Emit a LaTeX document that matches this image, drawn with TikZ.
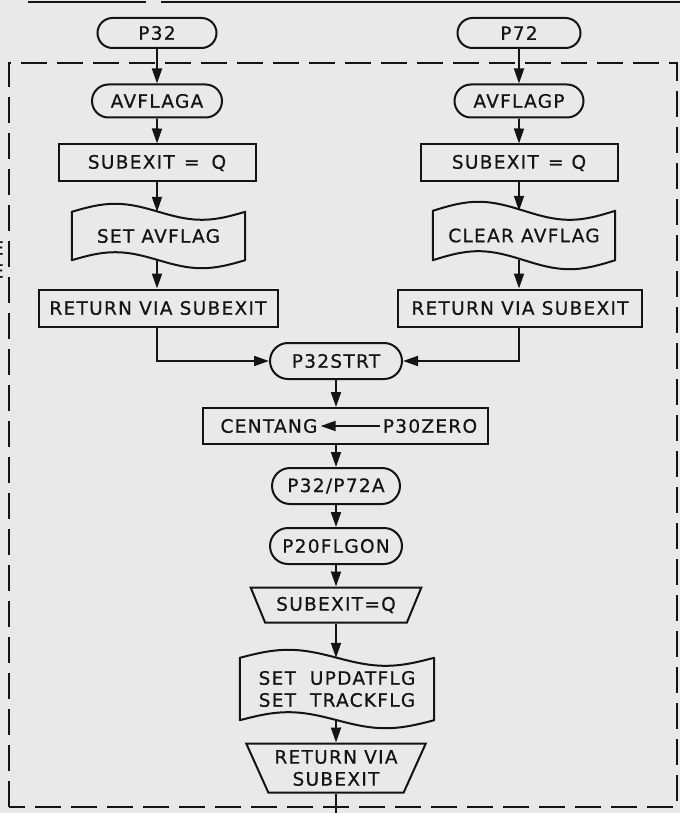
\documentclass[tikz,border=0pt]{standalone}
\usepackage{fontspec}
\usetikzlibrary{arrows.meta,calc,shapes.misc,shapes.geometric}
\newfontfamily\lettering[LetterSpace=7,FakeBold=0.6]{DejaVu Sans}
\definecolor{paper}{RGB}{233,233,233}
\definecolor{ink}{RGB}{20,20,20}
\tikzset{
  every node/.style={font=\lettering\fontsize{18.5}{22}\selectfont, text=ink},
  base/.style={draw=ink, line width=2pt, inner sep=2pt, align=center},
  term/.style={base, rounded rectangle},
  procbox/.style={base, rectangle},
  tapebox/.style={draw=none, inner sep=2pt, align=center},
  outline/.style={draw=ink, line width=2pt, line join=round},
  manual/.style={base, trapezium, shape border rotate=180, trapezium stretches=true},
  flow/.style={draw=ink, line width=1.8pt, -{Triangle[length=15pt,width=10pt]}},
  plain/.style={draw=ink, line width=1.8pt},
  frame/.style={draw=ink, line width=2pt, dash pattern=on 26pt off 10pt},
}
% punched-tape outline around a node: wavy top and bottom edges
\newcommand\tapeoutline[2]{%
  \draw[outline] let \p1=(#1.north west), \p2=(#1.south east),
      \n1={(\x2-\x1)/4} in
    (\x1,\y1) sin ++(\n1,#2) cos ++(\n1,-#2)
              sin ++(\n1,-#2) cos ++(\n1,#2)
    -- (\x2,\y2) sin ++(-\n1,-#2) cos ++(-\n1,#2)
              sin ++(-\n1,#2) cos ++(-\n1,-#2)
    -- cycle;}
\begin{document}
\begin{tikzpicture}[x=1pt,y=-1pt]
  \clip (0,0) rectangle (680,813);
  \fill[paper] (0,0) rectangle (680,813);

  % rule along the upper edge
  \draw[plain] (28,2) -- (146,2);
  \draw[plain] (161,2) -- (680,2);
  % fragments of lettering at the left edge
  \node[anchor=east, inner sep=0pt] (edgeA) at (4,248) {E};
  \node[anchor=east, inner sep=0pt] (edgeB) at (4,271) {E};

  % dashed enclosure
  \draw[frame] (9,807) -- (9,63) -- (677,63) -- (677,807) -- cycle;

  % left branch
  \node[term, minimum width=123pt, minimum height=30pt] (p32) at (157,33) {P32};
  \node[term, minimum width=134pt, minimum height=33pt] (avfa) at (157,101) {AVFLAGA};
  \node[procbox, minimum width=197pt, minimum height=37pt] (subl) at (157,163) {SUBEXIT\enspace=\hspace{12pt}Q};
  \node[tapebox, minimum width=173pt, minimum height=48pt] (setav) at (158.5,236) {SET AVFLAG};
  \tapeoutline{setav}{8pt}
  \node[procbox, minimum width=239pt, minimum height=37pt] (retl) at (158,308) {RETURN VIA SUBEXIT};

  % right branch
  \node[term, minimum width=127pt, minimum height=30pt] (p72) at (519,33) {P72};
  \node[term, minimum width=133pt, minimum height=33pt] (avfp) at (519,101) {AVFLAGP};
  \node[procbox, minimum width=197pt, minimum height=37pt] (subr) at (519,163) {SUBEXIT\enspace=\hspace{8pt}Q};
  \node[tapebox, minimum width=182pt, minimum height=49pt] (clrav) at (524,235.5) {CLEAR AVFLAG};
  \tapeoutline{clrav}{9pt}
  \node[procbox, minimum width=244pt, minimum height=37pt] (retr) at (520,308) {RETURN VIA SUBEXIT};

  % common path
  \node[term, minimum width=136pt, minimum height=36pt] (strt) at (336,361) {P32STRT};
  \node[procbox, minimum width=285pt, minimum height=36pt] (cbox) at (345,426) {};
  \node[inner sep=3pt] (cent) at (269,426) {CENTANG};
  \node[inner sep=3pt] (zero) at (430,426) {P30ZERO};
  \node[term, minimum width=132pt, minimum height=36pt] (pa) at (336,486) {P32/P72A};
  \node[term, minimum width=136pt, minimum height=36pt] (flgon) at (336,546) {P20FLGON};
  \node[manual, trapezium left angle=58, trapezium right angle=58,
        minimum width=171pt, minimum height=35pt] (subq) at (336,605) {SUBEXIT=Q};
  \node[tapebox, minimum width=194pt, minimum height=62pt] (setup) at (337,689)
        {SET\hspace{14pt}UPDATFLG\\SET\hspace{14pt}TRACKFLG};
  \tapeoutline{setup}{8pt}
  \node[manual, trapezium left angle=61.6, trapezium right angle=61.6, inner sep=1pt,
        minimum width=180pt, minimum height=49pt] (retq) at (336,768) {RETURN VIA\\SUBEXIT};
  \coordinate (exit) at (336,813);

  % connectors
  \draw[flow] (p32) -- (avfa);
  \draw[flow] (avfa) -- (subl);
  \draw[flow] (subl) -- (setav.north -| subl);
  \draw[flow] (setav.south -| subl) -- (retl.north -| subl);
  \draw[flow] (retl.south -| subl) |- (strt.west);

  \draw[flow] (p72) -- (avfp);
  \draw[flow] (avfp) -- (subr);
  \draw[flow] (subr) -- (clrav.north -| subr);
  \draw[flow] (clrav.south -| subr) -- (retr.north -| subr);
  \draw[flow] (retr.south -| subr) |- (strt.east);

  \draw[flow] (strt) -- (strt |- cbox.north);
  \draw[flow] (zero) -- (cent);
  \draw[flow] (strt |- cbox.south) -- (pa);
  \draw[flow] (pa) -- (flgon);
  \draw[flow] (flgon) -- (subq);
  \draw[flow] (subq) -- (setup.north -| subq);
  \draw[flow] (setup.south -| subq) -- (retq);
  \draw[plain] (retq) -- (exit);
\end{tikzpicture}
\end{document}
